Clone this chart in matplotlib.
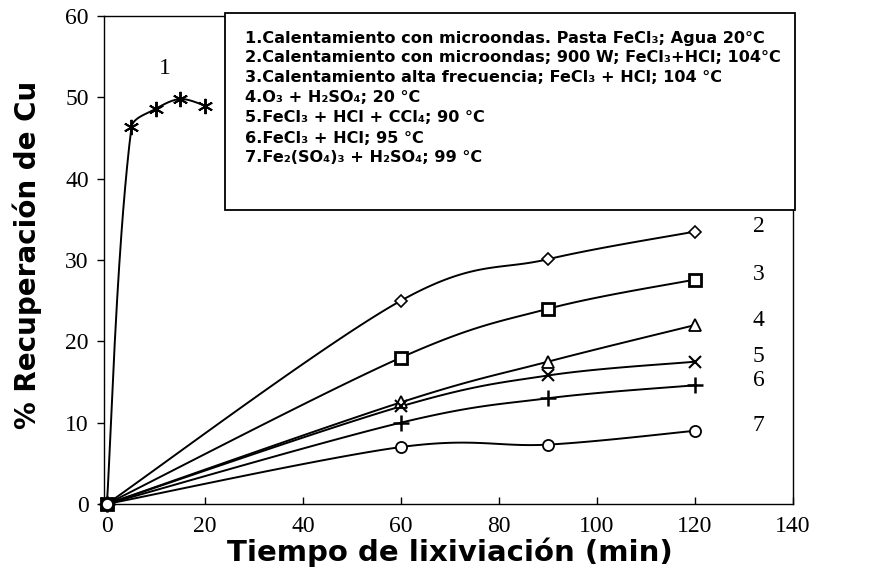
import numpy as np
import matplotlib
matplotlib.use("Agg")
import matplotlib.pyplot as plt
from matplotlib.patches import Rectangle

# Data
t_micro = [0, 5, 10, 15, 20]
rec_1 = [0, 46.3, 48.6, 49.8, 49.0]

t_std = [0, 60, 90, 120]
rec_2 = [0, 25.0, 30.1, 33.5]
rec_3 = [0, 18.0, 24.0, 27.6]
rec_4 = [0, 12.5, 17.5, 22.0]
rec_5 = [0, 12.0, 15.8, 17.5]
rec_6 = [0, 10.0, 13.0, 14.6]
rec_7 = [0, 7.0, 7.3, 9.0]

legend_lines = [
    "1.Calentamiento con microondas. Pasta FeCl\u2083; Agua 20\u00b0C",
    "2.Calentamiento con microondas; 900 W; FeCl\u2083+HCl; 104\u00b0C",
    "3.Calentamiento alta frecuencia; FeCl\u2083 + HCl; 104 \u00b0C",
    "4.O\u2083 + H\u2082SO\u2084; 20 \u00b0C",
    "5.FeCl\u2083 + HCl + CCl\u2084; 90 \u00b0C",
    "6.FeCl\u2083 + HCl; 95 \u00b0C",
    "7.Fe\u2082(SO\u2084)\u2083 + H\u2082SO\u2084; 99 \u00b0C",
]

# pixel scale of the axes (used to keep the smoothing from overshooting)
PX_X, PX_Y = 4.9, 8.13


def smooth(x, y, scaled=False, n=40):
    """Smoothed line through the points (cubic Bezier, Excel-like)."""
    p = np.column_stack([x, y]).astype(float)
    ext = np.vstack([p[0], p, p[-1]])
    pix = p * [PX_X, PX_Y]
    d = np.hypot(*np.diff(pix, axis=0).T)
    d = np.concatenate([[d[0]], d, [d[-1]]])
    out = [p[0]]
    s = np.linspace(0, 1, n)[1:, None]
    for i in range(len(p) - 1):
        p0 = p[i]
        p3 = p[i + 1]
        t0 = ext[i + 2] - ext[i]
        t1 = ext[i + 3] - ext[i + 1]
        if scaled:
            c1 = p0 + t0 * d[i + 1] / (d[i] + d[i + 1]) / 3.0
            c2 = p3 - t1 * d[i + 1] / (d[i + 1] + d[i + 2]) / 3.0
        else:
            c1 = p0 + t0 / 6.0
            c2 = p3 - t1 / 6.0
        seg = ((1 - s) ** 3) * p0 + 3 * ((1 - s) ** 2) * s * c1 + 3 * (1 - s) * s ** 2 * c2 + s ** 3 * p3
        out.extend(seg)
    out = np.array(out)
    return out[:, 0], out[:, 1]


fig = plt.figure(figsize=(8.81, 5.85), dpi=100)
ax = fig.add_axes([0.118, 0.1385, 0.782, 0.834])

series = [
    (t_micro, rec_1, True, dict(marker=(6, 2, 0), ms=11, mew=1.4)),
    (t_std, rec_2, False, dict(marker="D", ms=6.5, mew=1.2, mfc="white")),
    (t_std, rec_3, False, dict(marker="s", ms=9, mew=2.0, mfc="white")),
    (t_std, rec_4, False, dict(marker="^", ms=8, mew=1.3, mfc="white")),
    (t_std, rec_5, False, dict(marker="x", ms=9, mew=1.5)),
    (t_std, rec_6, False, dict(marker="+", ms=11, mew=1.8)),
    (t_std, rec_7, False, dict(marker="o", ms=8, mew=1.3, mfc="white")),
]

for xs, ys, scaled, style in series:
    sx, sy = smooth(xs, ys, scaled)
    ax.plot(sx, sy, color="black", lw=1.4, zorder=2)
    ax.plot(xs, ys, ls="none", color="black", mec="black", zorder=3,
            clip_on=False, **style)

# curve numbers
serif = "Liberation Serif"
ax.text(t_micro[2] + 1.8, 53.5, "1", fontsize=17, family=serif, ha="center", va="center")
for num, ys in zip(range(2, 8), [rec_2, rec_3, rec_4, rec_5, rec_6, rec_7]):
    ax.text(t_std[-1] + 13, ys[-1] + 0.6, str(num), fontsize=17, family=serif,
            ha="center", va="center")

ax.set_xlim(-0.6, 140)
ax.set_ylim(0, 60)
ax.set_xticks(np.arange(0, 141, 20))
ax.set_yticks(np.arange(0, 61, 10))
ax.tick_params(axis="x", direction="in", length=5, width=1, pad=9)
ax.tick_params(axis="y", direction="out", length=5, width=1, pad=6)
for lab in ax.get_xticklabels() + ax.get_yticklabels():
    lab.set_family(serif)
    lab.set_fontsize(17)
for sp in ax.spines.values():
    sp.set_linewidth(1.0)

ax.set_xlabel("Tiempo de lixiviación (min)", fontsize=21, fontweight="bold",
              family="DejaVu Sans")
ax.set_ylabel("% Recuperación de Cu", fontsize=20, fontweight="bold",
              family="DejaVu Sans")
ax.xaxis.set_label_coords(0.502, -0.068)
ax.yaxis.set_label_coords(-0.09, 0.51)

# description box
box = Rectangle((225 / 881, 1 - 210 / 585), (795 - 225) / 881, (210 - 13) / 585,
                transform=fig.transFigure, facecolor="white", edgecolor="black",
                lw=1.3, zorder=5)
fig.patches.append(box)
for i, line in enumerate(legend_lines):
    fig.text(245 / 881, 1 - (38 + i * 20) / 585, line, fontsize=11.6, fontweight="bold",
             family="DejaVu Sans", va="center", ha="left", zorder=6)

fig.savefig("out.png", dpi=100)
